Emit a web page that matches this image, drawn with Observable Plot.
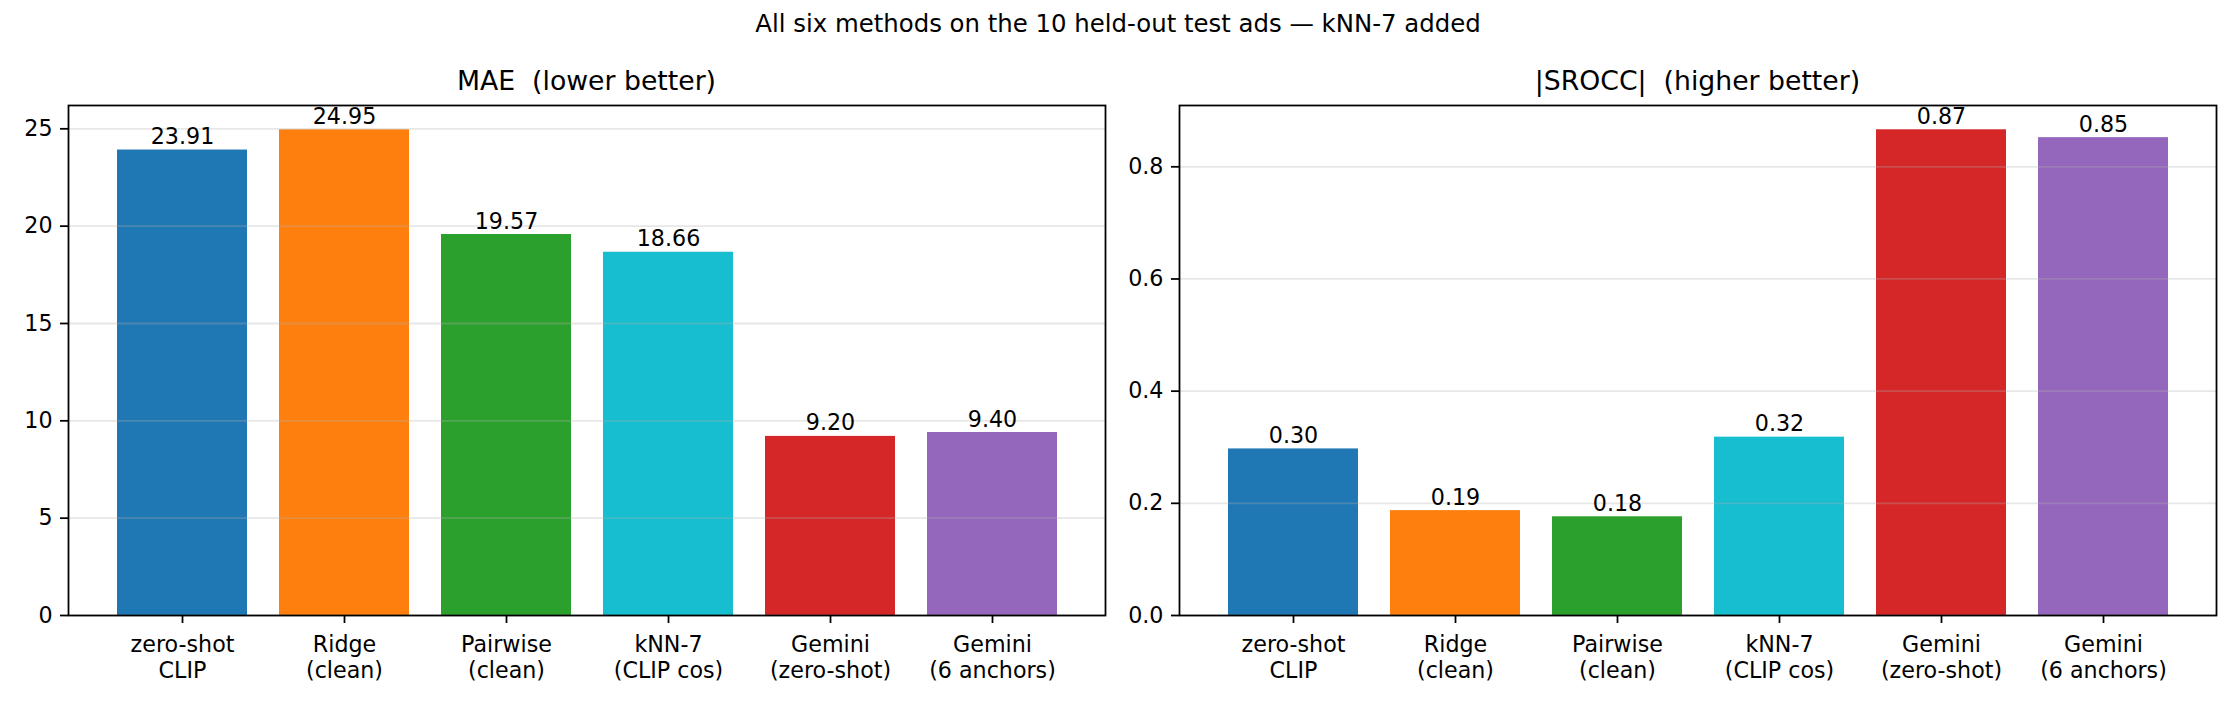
<!DOCTYPE html>
<html><head><meta charset="utf-8">
<script src="https://cdn.jsdelivr.net/npm/d3@7"></script>
<script src="https://cdn.jsdelivr.net/npm/@observablehq/plot@0.6"></script>
<style>
body{margin:0;background:#fff;font-family:"DejaVu Sans";}
#wrap{position:relative;width:2240px;height:704px;overflow:hidden;background:#fff;}
.t{position:absolute;white-space:pre;color:#000;transform:translateX(-50%);line-height:1;font-family:"DejaVu Sans";}
</style></head><body><div id="wrap"></div>
<script>
const methods = ["zero-shot\nCLIP", "Ridge\n(clean)", "Pairwise\n(clean)", "kNN-7\n(CLIP cos)", "Gemini\n(zero-shot)", "Gemini\n(6 anchors)"];
const maeValues = [23.91, 24.95, 19.57, 18.66, 9.20, 9.40];
const sroccValues = [0.297, 0.187, 0.176, 0.318, 0.866, 0.852];
const maeTicks = [0, 5, 10, 15, 20, 25];
const sroccTicks = [0, 0.2, 0.4, 0.6, 0.8];
const palette = ["#1f77b4", "#ff7f0e", "#2ca02c", "#17becf", "#d62728", "#9467bd"];
const suptitle = "All six methods on the 10 held-out test ads — kNN-7 added";
const titles = ["MAE  (lower better)", "|SROCC|  (higher better)"];

const wrap = document.getElementById("wrap");
function addText(txt, x, top, size) {
  const d = document.createElement("div");
  d.className = "t";
  d.textContent = txt;
  d.style.left = x + "px";
  d.style.top = top + "px";
  d.style.fontSize = size + "px";
  wrap.appendChild(d);
}

const FS = 22.2, LW = 1.78;
function panel(values, ticks, fmt, left, mLeft, mRight) {
  const data = methods.map((m, i) => ({m, v: values[i]}));
  const ymax = d3.max(values) * 1.05;
  const svg = Plot.plot({
    width: 1120, height: 614,
    marginTop: 15, marginBottom: 89, marginLeft: mLeft, marginRight: mRight,
    style: {fontFamily: "DejaVu Sans", fontSize: FS + "px", color: "black", background: "white", overflow: "visible"},
    x: {type: "band", domain: methods, paddingInner: 0.2, paddingOuter: 0.29, label: null},
    y: {domain: [0, ymax], label: null},
    color: {domain: methods, range: palette},
    marks: [
      Plot.barY(data, {x: "m", y: "v", fill: "m"}),
      Plot.ruleY(ticks, {stroke: "#b0b0b0", strokeOpacity: 0.3, strokeWidth: LW}),
      Plot.text(data, {x: "m", y: "v", text: d => d.v.toFixed(2), lineAnchor: "bottom", dy: -6, fontSize: FS, fill: "black"}),
      Plot.frame({stroke: "black", strokeWidth: LW}),
      Plot.axisX({tickSize: 8, tickFormat: () => "", strokeWidth: LW, label: null}),
      Plot.text(methods, {x: d => d, text: d => d, frameAnchor: "bottom", lineAnchor: "top", dy: 19, lineHeight: 1.14, fontSize: FS, fill: "black"}),
      Plot.axisY({ticks: ticks, tickFormat: fmt, tickSize: 8, tickPadding: 8, fontSize: FS, strokeWidth: LW, label: null})
    ]
  });
  svg.style.position = "absolute";
  svg.style.left = left + "px";
  svg.style.top = "90px";
  wrap.appendChild(svg);
}

panel(maeValues, maeTicks, d => d.toFixed(0), 0, 68, 15);
panel(sroccValues, sroccTicks, d => d.toFixed(1), 1120, 59, 24);

addText(suptitle, 1118, 12.4, 24.4);
addText(titles[0], 586.5, 68, 26.7);
addText(titles[1], 1697.5, 68, 26.7);
</script></body></html>
